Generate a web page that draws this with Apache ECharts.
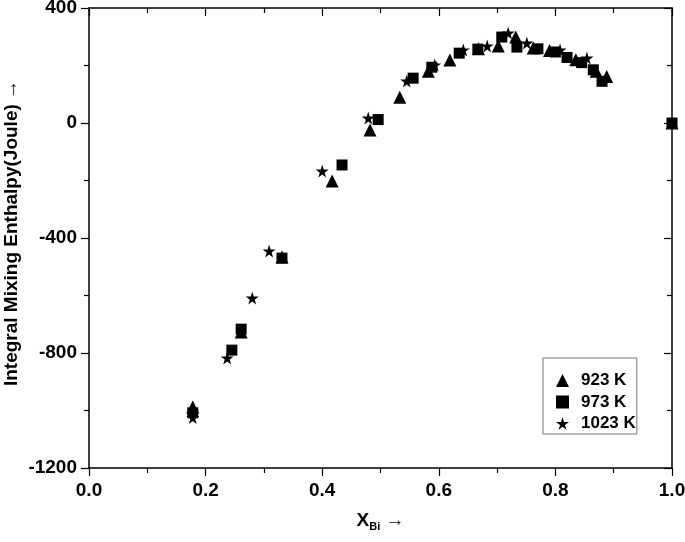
<!DOCTYPE html>
<html>
<head>
<meta charset="utf-8">
<script src="https://cdn.jsdelivr.net/npm/echarts@6/dist/echarts.min.js"></script>
<style>html,body{margin:0;padding:0;background:#fff}#c{width:685px;height:542px}</style>
</head>
<body>
<div id="c"></div>
<script>
// Data
const seriesNames = ['923 K', '973 K', '1023 K'];
const x923 = [0.178, 0.261, 0.331, 0.417, 0.482, 0.533, 0.582, 0.619, 0.668, 0.702, 0.732, 0.762, 0.790, 0.835, 0.870, 0.888, 1.0];
const y923 = [-988, -727, -466, -202, -24, 90, 180, 219, 258, 268, 299, 261, 252, 220, 180, 162, 0];
const x973 = [0.178, 0.245, 0.261, 0.331, 0.434, 0.496, 0.556, 0.588, 0.635, 0.667, 0.708, 0.734, 0.770, 0.800, 0.820, 0.845, 0.865, 0.880, 1.0];
const y973 = [-1008, -790, -717, -470, -146, 12, 156, 194, 243, 257, 299, 264, 258, 247, 228, 210, 185, 145, 0];
const x1023 = [0.178, 0.237, 0.280, 0.309, 0.400, 0.479, 0.545, 0.593, 0.642, 0.683, 0.719, 0.751, 0.808, 0.854];
const y1023 = [-1024, -817, -609, -445, -167, 17, 146, 202, 254, 268, 313, 278, 254, 226];
const xTicks = [0, 0.2, 0.4, 0.6, 0.8, 1.0];
const yTicks = [-1200, -800, -400, 0, 400];
const yTitle = 'Integral Mixing Enthalpy(Joule)';

const STAR = 'path://M50,0 L61,35 L98,35 L68,57 L79,91 L50,70 L21,91 L32,57 L2,35 L39,35 Z';
const FONT = '"Liberation Sans", Arial, sans-serif';
const zip = (a, b) => a.map((v, i) => [v, b[i]]);

const chart = echarts.init(document.getElementById('c'), null, {renderer: 'canvas'});
const axisLine = {show: true, onZero: false, lineStyle: {color: '#000', width: 1.5}};
const tickStyle = {color: '#000', width: 1.2};
const baseX = {
  type: 'value', min: xTicks[0], max: xTicks[xTicks.length - 1], interval: 0.2,
  axisLine: axisLine, splitLine: {show: false},
  minorTick: {show: true, splitNumber: 2, length: 5, lineStyle: tickStyle},
  axisTick: {length: 8, lineStyle: tickStyle}
};
const baseY = {
  type: 'value', min: yTicks[0], max: yTicks[yTicks.length - 1], interval: 400,
  axisLine: axisLine, splitLine: {show: false},
  minorTick: {show: true, splitNumber: 2, length: 5, lineStyle: tickStyle},
  axisTick: {length: 8, lineStyle: tickStyle}
};

chart.setOption({
  animation: false,
  backgroundColor: '#fff',
  grid: {left: 89, right: 13, top: 8, bottom: 74, containLabel: false, outerBoundsMode: 'none'},
  graphic: [{
    type: 'text', x: 12, y: 233, rotation: Math.PI / 2,
    style: {
      text: '{t|' + yTitle + '}{a| →}', align: 'center', verticalAlign: 'middle',
      rich: {
        t: {fontFamily: FONT, fontWeight: 'bold', fontSize: 19, fill: '#000'},
        a: {fontFamily: FONT, fontSize: 19, fill: '#000'}
      }
    }
  }],
  legend: {
    orient: 'vertical', left: 543, top: 358,
    padding: [14, 1, 2, 13], itemGap: 4.5, itemWidth: 13, itemHeight: 13,
    borderColor: '#777', borderWidth: 1,
    textStyle: {fontFamily: FONT, fontWeight: 'bold', fontSize: 17, color: '#000', padding: [0, 0, 0, 7]},
    data: [
      {name: seriesNames[0], icon: 'triangle'},
      {name: seriesNames[1], icon: 'rect'},
      {name: seriesNames[2], icon: STAR}
    ]
  },
  xAxis: [
    Object.assign({}, baseX, {
      position: 'bottom',
      axisLabel: {fontFamily: FONT, fontWeight: 'bold', fontSize: 19, color: '#000', margin: 13,
        formatter: v => v.toFixed(1)},
      name: '{x|X}{s|Bi}{a| →}', nameLocation: 'middle', nameGap: 41,
      nameTextStyle: {rich: {
        x: {fontFamily: FONT, fontWeight: 'bold', fontSize: 19, color: '#000'},
        s: {fontFamily: FONT, fontWeight: 'bold', fontSize: 11, color: '#000', verticalAlign: 'bottom', padding: [12, 0, 0, 0]},
        a: {fontFamily: FONT, fontSize: 19, color: '#000'}
      }}
    }),
    Object.assign({}, baseX, {position: 'top', axisLabel: {show: false},
      axisTick: {inside: true, length: 8, lineStyle: tickStyle}})
  ],
  yAxis: [
    Object.assign({}, baseY, {
      position: 'left',
      axisLabel: {fontFamily: FONT, fontWeight: 'bold', fontSize: 19, color: '#000', margin: 12,
        formatter: v => String(v)}
    }),
    Object.assign({}, baseY, {position: 'right', axisLabel: {show: false},
      axisTick: {inside: true, length: 8, lineStyle: tickStyle}})
  ],
  series: [
    {name: seriesNames[0], type: 'scatter', xAxisIndex: 0, yAxisIndex: 0, symbol: 'triangle', symbolSize: 13,
      itemStyle: {color: '#000', opacity: 1}, data: zip(x923, y923), clip: true},
    {name: seriesNames[1], type: 'scatter', xAxisIndex: 0, yAxisIndex: 0, symbol: 'rect', symbolSize: 11,
      itemStyle: {color: '#000', opacity: 1}, data: zip(x973, y973), clip: true},
    {name: seriesNames[2], type: 'scatter', xAxisIndex: 0, yAxisIndex: 0, symbol: STAR, symbolSize: 13,
      itemStyle: {color: '#000', opacity: 1}, data: zip(x1023, y1023), clip: true}
  ]
});
</script>
</body>
</html>
